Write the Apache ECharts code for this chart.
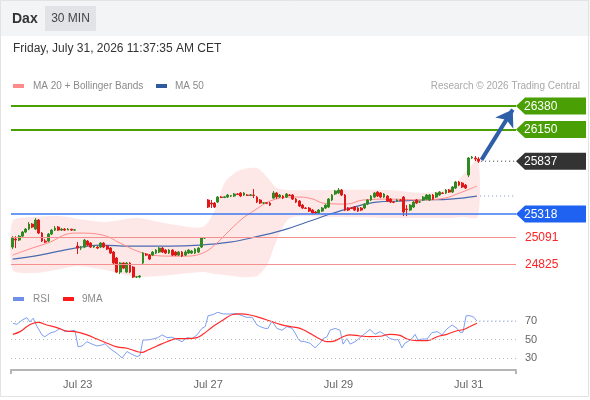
<!DOCTYPE html>
<html><head><meta charset="utf-8">
<script src="https://cdn.jsdelivr.net/npm/echarts@6/dist/echarts.min.js"></script>
<style>html,body{margin:0;padding:0;background:#fff}#c{width:590px;height:400px}</style>
</head><body><div id="c"></div>
<script>
// ---------- data ----------
const days = ['Jul 22','Jul 23','Jul 24','Jul 27','Jul 28','Jul 29','Jul 30','Jul 31'];
const barsPerDay = [20,20,20,20,20,20,20,4];
const futureSlots = 11;
const tickDays = ['Jul 23','Jul 27','Jul 29','Jul 31'];

const openP = [
24992,25071,25061,25100,25140,25169,25218,25169,25258,25130,
25051,25051,25120,25159,25189,25159,25169,25159,25169,25159,
25002,24982,24992,25051,25031,24992,24992,24992,25031,25002,
24982,24943,24884,24746,24835,24746,24835,24795,24697,24697,
24835,24923,24913,24913,24933,24943,24982,24962,24933,24962,
24943,24913,24943,24913,24933,24933,24933,24943,24992,25081,
25455,25425,25425,25435,25484,25480,25484,25494,25494,25514,
25524,25504,25504,25500,25504,25484,25455,25425,25428,25425,
25474,25524,25484,25494,25484,25504,25504,25464,25445,25405,
25376,25376,25356,25337,25327,25346,25376,25386,25455,25514,
25524,25553,25504,25376,25376,25386,25376,25376,25376,25415,
25455,25484,25533,25524,25484,25494,25464,25435,25445,25455,
25484,25366,25356,25386,25455,25435,25455,25464,25455,25504,
25484,25504,25524,25524,25553,25533,25573,25632,25622,25602,
25701,25868,25868,25858];
const closeP = [
25081,25061,25100,25140,25169,25218,25189,25258,25130,25051,
25041,25120,25159,25179,25159,25169,25159,25169,25159,25162,
24982,24985,25061,25012,24992,25002,24982,25031,24992,24972,
24933,24835,24746,24835,24785,24835,24746,24697,24700,24707,
24933,24913,24874,24943,24962,24982,24943,24933,24962,24913,
24913,24943,24903,24943,24962,24953,24972,24982,25081,25084,
25386,25415,25386,25484,25480,25486,25504,25498,25514,25510,
25494,25524,25500,25506,25500,25435,25425,25428,25422,25405,
25524,25484,25504,25474,25514,25500,25464,25435,25396,25376,
25372,25346,25327,25327,25356,25376,25405,25464,25504,25543,
25553,25504,25356,25356,25372,25356,25346,25356,25415,25455,
25494,25524,25494,25484,25514,25445,25435,25432,25455,25452,
25337,25362,25405,25435,25425,25438,25484,25504,25504,25464,
25524,25533,25520,25553,25533,25583,25632,25602,25583,25573,
25868,25878,25858,25837];
const highP = [
25100,25100,25110,25150,25179,25238,25228,25277,25268,25140,
25071,25130,25169,25199,25199,25179,25179,25179,25169,25169,
25041,25002,25071,25061,25041,25012,25002,25041,25041,25012,
24992,24953,24894,24844,24844,24844,24844,24805,24707,24716,
24943,24933,24923,24953,24972,24992,24992,24972,24972,24972,
24953,24953,24953,24962,24972,24962,24982,24992,25090,25090,
25464,25455,25435,25494,25494,25494,25514,25504,25524,25524,
25533,25533,25514,25514,25563,25494,25464,25435,25435,25435,
25543,25533,25514,25504,25524,25514,25514,25474,25455,25415,
25386,25386,25366,25346,25366,25386,25415,25474,25514,25553,
25573,25563,25514,25386,25386,25396,25386,25386,25425,25464,
25504,25533,25543,25533,25524,25504,25474,25445,25464,25464,
25494,25405,25415,25445,25464,25445,25494,25514,25514,25514,
25533,25543,25533,25563,25563,25592,25642,25642,25632,25612,
25878,25888,25888,25878];
const lowP = [
24972,24982,25051,25090,25130,25159,25179,25159,25120,25041,
25031,25041,25110,25150,25150,25150,25150,25159,25150,25150,
24923,24962,24982,25002,24982,24982,24972,24982,24982,24962,
24923,24825,24736,24726,24775,24736,24736,24687,24687,24687,
24825,24903,24864,24903,24923,24933,24933,24923,24923,24903,
24903,24903,24894,24903,24923,24923,24923,24933,24982,25071,
25376,25376,25376,25425,25474,25474,25474,25484,25484,25504,
25484,25494,25494,25494,25474,25425,25415,25415,25415,25396,
25464,25464,25474,25464,25474,25494,25455,25425,25386,25366,
25366,25337,25317,25317,25317,25337,25366,25376,25445,25504,
25514,25494,25346,25346,25366,25346,25337,25346,25366,25405,
25445,25474,25484,25474,25474,25435,25425,25425,25435,25445,
25297,25297,25346,25376,25415,25425,25445,25455,25445,25455,
25474,25494,25514,25514,25524,25524,25563,25592,25573,25563,
25681,25858,25838,25819];

// indicator readings: [bar position, value]
const ma20 = [[0,24913],[6,24982],[11.5,25041],[16.7,25120],[20,25130],[27.7,25110],[33,25031],[38.2,24953],[43,24913],[48.3,24903],[53.5,24903],[58.4,24933],[62,25012],[66.7,25159],[70.7,25277],[74.4,25356],[79,25445],[85,25484],[88.2,25484],[92.2,25464],[95.3,25425],[102.6,25415],[107.5,25455],[115.8,25464],[125.9,25455],[132.7,25474],[136.4,25514],[139.5,25553],[142.5,25592]];
const ma50 = [[0,24874],[8.4,24913],[19.1,24982],[26.8,25012],[36,25002],[48.3,25002],[57.5,25012],[66.7,25041],[74.4,25090],[83,25159],[91.3,25248],[97.4,25317],[103.6,25376],[111.8,25435],[118.9,25445],[125.9,25455],[134.3,25464],[142.5,25494]];
const bandPos   = [0,6.25,14.5,20.1,28.4,38.2,48.3,58.4,62.1,65.2,69.8,75.0,78.1,81.1,85.1,95.3,115.8,125.9,134.3,138.2,142.8];
const bandUpper = [25248,25287,25297,25268,25238,25277,25218,25189,25356,25632,25750,25770,25681,25573,25553,25553,25553,25524,25573,25701,25848];
const bandLower = [24766,24736,24775,24805,24766,24697,24716,24746,24726,24716,24697,24707,24815,25061,25277,25287,25277,25277,25277,25287,25287];

const rsi = [[0.1,67.5],[1.3,66.4],[2.9,71],[4.4,73.6],[5.3,69],[6.3,73],[7.5,64],[9.0,55],[9.9,53],[11.5,57],[13.0,58.5],[14.5,62],[16.1,58.5],[17.6,59],[19.1,60],[20.1,42],[21.3,43],[22.8,47.6],[24.4,45],[25.9,43],[27.4,44],[28.4,45.5],[29.3,42],[30.5,38.6],[32.0,35],[33.6,30],[35.1,37],[36.6,34],[38.2,31.5],[39.1,33],[40.0,49.5],[41.5,49.5],[43.1,50.5],[44.6,52],[45.9,55],[47.4,52],[48.9,52.5],[50.5,50],[52.0,47.6],[53.5,52],[55.1,51],[56.6,55],[58.1,62],[59.1,64],[60.0,75.7],[61.5,77],[63.0,79.4],[64.6,77.6],[66.7,77.6],[68.9,78],[70.4,75.7],[71.9,74],[73.5,74],[75.0,65.7],[75.9,64],[77.5,62],[78.4,62],[79.6,70],[81.1,62],[82.7,60],[84.2,64],[85.8,62],[86.7,57],[87.6,51],[88.2,48.4],[89.7,47.6],[91.3,46],[92.8,41],[94.3,46],[95.3,51],[96.5,53],[97.4,60],[99.0,62],[100.5,60],[101.4,45],[102.6,51],[103.6,45],[105.1,47.6],[106.6,52],[108.2,56.6],[109.7,61],[111.2,55.6],[112.8,58.5],[114.3,55],[115.8,51],[117.4,49.5],[118.3,50],[119.5,41],[120.4,46],[121.4,48],[122.6,51],[123.5,55.6],[124.4,49.5],[125.7,50.5],[127.2,50.5],[128.7,57.4],[130.3,58.5],[131.8,55],[133.3,61.4],[134.9,65.7],[136.4,62],[137.3,57.8],[138.2,57.8],[139.2,75.7],[140.4,75.7],[141.6,74],[142.5,70]];
const rsiMa = [[0.1,55.6],[2.3,58.5],[4.4,64],[6.3,67.5],[7.8,68.6],[10.5,65.7],[13.6,62.8],[16.7,59],[19.1,58.5],[22.8,55],[25.9,50.5],[29.0,46],[32.0,42],[35.1,40.5],[38.2,37],[39.7,36],[41.5,38.6],[44.3,43],[47.4,47.6],[50.5,51],[53.5,51],[56.6,52],[58.4,55.6],[61.5,64],[64.6,71],[67.6,77],[69.8,77.6],[72.9,76.5],[75.9,73.6],[79.0,70],[82.1,66.4],[85.1,64],[88.2,62],[91.3,56.6],[94.3,50.5],[96.5,47.6],[98.3,48],[101.4,53],[103.6,55],[106.6,53.8],[109.7,53],[112.8,53.5],[115.8,55.6],[118.9,54.5],[121.1,50.5],[124.1,48.7],[127.2,48.7],[130.3,53],[133.3,55.6],[136.4,59.5],[138.2,60.5],[140.4,64],[142.5,67.5]];
const rsiLevels = [70, 50, 30];

const resistances = [26380, 26150];
const pivot = 25318;
const supports = [25091, 24825];
const lastPrice = 25837;
const lastMa50 = 25494;
const lastRsi = 70;
const arrowFrom = [143.9, 25850];
const arrowTo = [153.5, 26345];

// ---------- build ----------
const categories = [];
const firstBar = {};
days.forEach((d, k) => {
  firstBar[d] = categories.length;
  for (let j = 0; j < barsPerDay[k]; j++) categories.push(d + ' #' + j);
});
for (let j = 0; j < futureSlots; j++) categories.push('Jul 31 #' + (barsPerDay[barsPerDay.length-1] + j));
const N = categories.length;
const tickIdx = new Set(tickDays.map(d => firstBar[d]));
const ohlc = openP.map((o, i) => [o, closeP[i], lowP[i], highP[i]]);
const lastIdx = openP.length - 1;

const FONT = '"Liberation Sans", Arial, sans-serif';
const GREEN = '#4a9f05', DARK = '#333333', RED = '#ff2222';

const chart = echarts.init(document.getElementById('c'), null, {renderer: 'canvas'});
const hidden = {show: false};
const option = {
  animation: false,
  textStyle: {fontFamily: FONT},
  grid: [
    {left: 11, right: 74, top: 80, height: 200},
    {left: 11, right: 74, top: 311.75, height: 58.25}
  ],
  xAxis: [
    {type: 'category', gridIndex: 0, data: categories, boundaryGap: true, show: false},
    {type: 'value', gridIndex: 0, min: -0.5, max: N - 0.5, show: false},
    {type: 'category', gridIndex: 1, data: categories, boundaryGap: true,
     axisLine: {show: true, lineStyle: {color: '#b5b5b5', width: 2}},
     axisTick: {show: false}, splitLine: {show: false},
     axisLabel: {interval: (i) => tickIdx.has(i), formatter: v => v.split(' #')[0],
                 color: '#666', fontSize: 11, margin: 9, fontFamily: FONT}},
    {type: 'value', gridIndex: 1, min: -0.5, max: N - 0.5, show: false}
  ],
  yAxis: [
    {type: 'value', gridIndex: 0, min: 24668, max: 26636, show: false, splitLine: hidden},
    {type: 'value', gridIndex: 1, min: 17, max: 80, show: false, splitLine: hidden}
  ],
  series: [
    {type: 'custom', name: 'Bollinger Bands', xAxisIndex: 1, yAxisIndex: 0, z: 1, silent: true,
     data: [[bandPos[0], bandLower[0]]],
     renderItem: function (params, api) {
       const up = bandPos.map((p, i) => api.coord([p, bandUpper[i]]));
       const lo = bandPos.map((p, i) => api.coord([p, bandLower[i]])).reverse();
       return {type: 'group', children: [
         {type: 'polygon', shape: {points: up.concat(lo), smooth: 0.25},
          style: {fill: 'rgba(250,110,110,0.17)', stroke: null}}
       ]};
     }},
    {type: 'line', name: 'MA 50', xAxisIndex: 1, yAxisIndex: 0, data: ma50, smooth: 0.4,
     symbol: 'none', lineStyle: {color: '#4a6bb0', width: 1.2}, z: 2, silent: true},
    {type: 'line', name: 'MA 20', xAxisIndex: 1, yAxisIndex: 0, data: ma20, smooth: 0.4,
     symbol: 'none', lineStyle: {color: '#ff8a8a', width: 1}, z: 2, silent: true},
    {type: 'candlestick', name: 'Dax', xAxisIndex: 0, yAxisIndex: 0, data: ohlc, barWidth: '70%', z: 3,
     itemStyle: {color: '#2f8a22', color0: '#e01818', borderColor: '#2f8a22', borderColor0: '#e01818', borderWidth: 1},
     markLine: {silent: true, symbol: 'none', label: {show: false},
       data: [
         {yAxis: resistances[0], lineStyle: {color: GREEN, width: 2, type: 'solid'}},
         {yAxis: resistances[1], lineStyle: {color: GREEN, width: 2, type: 'solid'}},
         {yAxis: pivot, lineStyle: {color: '#3b78f0', width: 1.5, type: 'solid'}},
         {yAxis: supports[0], lineStyle: {color: '#f59090', width: 1, type: 'solid'}},
         {yAxis: supports[1], lineStyle: {color: '#f59090', width: 1, type: 'solid'}}
       ]}},
    {type: 'line', name: 'last', xAxisIndex: 1, yAxisIndex: 0,
     data: [[lastIdx + 0.8, lastPrice], [N - 0.5, lastPrice]], symbol: 'none',
     lineStyle: {color: '#333', width: 1, type: [1, 3]}, z: 4, silent: true,
     markLine: {silent: true, symbol: ['none', 'arrow'], symbolSize: 16, label: {show: false},
       lineStyle: {color: '#2d5ea8', width: 4, type: 'solid'},
       data: [[{coord: arrowFrom}, {coord: arrowTo}]]}},
    {type: 'line', name: 'ma50mark', xAxisIndex: 1, yAxisIndex: 0,
     data: [[lastIdx + 0.5, lastMa50], [N - 0.5, lastMa50]], symbol: 'none',
     lineStyle: {color: '#8392b8', width: 1, type: [1, 3]}, z: 4, silent: true},
    {type: 'line', name: 'RSI', xAxisIndex: 3, yAxisIndex: 1, data: rsi, symbol: 'none',
     lineStyle: {color: '#7f9ef0', width: 1}, z: 3, silent: true,
     markLine: {silent: true, symbol: 'none',
       lineStyle: {color: '#bdbdbd', width: 1, type: [1, 3]},
       label: {show: true, position: 'end', formatter: '{c}', color: '#666', fontSize: 11, distance: 9, fontFamily: FONT},
       data: rsiLevels.map(v => ({yAxis: v}))}},
    {type: 'line', name: '9MA', xAxisIndex: 3, yAxisIndex: 1, data: rsiMa, symbol: 'none', smooth: 0.4,
     lineStyle: {color: '#ff2a2a', width: 1.2}, z: 4, silent: true},
    {type: 'line', name: 'rsimark', xAxisIndex: 3, yAxisIndex: 1,
     data: [[lastIdx + 0.3, lastRsi], [N - 0.5, lastRsi]], symbol: 'none',
     lineStyle: {color: '#7f9ef0', width: 1, type: [1, 3]}, z: 4, silent: true}
  ]
};
chart.setOption(option);

function txt(x, y, s, font, fill, align) {
  return {type: 'text', x: x, y: y, z: 20, silent: true,
    style: {text: s, font: font, fill: fill, align: align || 'left', textAlign: align || 'left',
            verticalAlign: 'middle', textVerticalAlign: 'middle'}};
}
const g = [];
g.push({type: 'rect', shape: {x: 0, y: 0, width: 590, height: 36}, style: {fill: '#f3f4f6'}, z: 0, silent: true});
g.push({type: 'rect', shape: {x: 45, y: 6, width: 51, height: 25}, style: {fill: '#e1e3e7'}, z: 1, silent: true});
g.push(txt(12, 19, 'Dax', 'bold 14px ' + FONT, '#333'));
g.push(txt(70.5, 19, '30 MIN', '12px ' + FONT, '#444', 'center'));
g.push(txt(13, 48.5, 'Friday, July 31, 2026 11:37:35 AM CET', '12px ' + FONT, '#333'));
g.push({type: 'rect', shape: {x: 13, y: 84, width: 11, height: 4}, style: {fill: '#ff8a8a'}, z: 20, silent: true});
g.push(txt(33, 86, 'MA 20 + Bollinger Bands', '10px ' + FONT, '#8a8a8a'));
g.push({type: 'rect', shape: {x: 156, y: 84, width: 11, height: 4}, style: {fill: '#2f5a9f'}, z: 20, silent: true});
g.push(txt(175, 86, 'MA 50', '10px ' + FONT, '#8a8a8a'));
g.push(txt(580, 86, 'Research \u00a9 2026 Trading Central', '10px ' + FONT, '#a8a8a8', 'right'));
g.push({type: 'rect', shape: {x: 13, y: 297, width: 11, height: 4}, style: {fill: '#6f8fe8'}, z: 20, silent: true});
g.push(txt(33, 299, 'RSI', '10px ' + FONT, '#8a8a8a'));
g.push({type: 'rect', shape: {x: 63, y: 297, width: 11, height: 4}, style: {fill: '#ff1a1a'}, z: 20, silent: true});
g.push(txt(82, 299, '9MA', '10px ' + FONT, '#8a8a8a'));

const xEnd = chart.convertToPixel({xAxisIndex: 1}, N - 0.5);
const xStart = chart.convertToPixel({xAxisIndex: 1}, -0.5);
function box(value, color) {
  const y = chart.convertToPixel({yAxisIndex: 0}, value);
  g.push({type: 'polygon', z: 20, silent: true,
    shape: {points: [[xEnd, y], [xEnd + 9, y - 8.5], [586, y - 8.5], [586, y + 8.5], [xEnd + 9, y + 8.5]]},
    style: {fill: color}});
  g.push(txt(xEnd + 8, y + 0.5, String(value), '12px ' + FONT, '#fff'));
}
box(resistances[0], GREEN);
box(resistances[1], GREEN);
box(lastPrice, DARK);
box(pivot, '#1f62f2');
supports.forEach(v => {
  const y = chart.convertToPixel({yAxisIndex: 0}, v);
  g.push(txt(xEnd + 9, y + 0.5, String(v), '12px ' + FONT, RED));
});
// axis end ticks
const yAxisLine = chart.convertToPixel({yAxisIndex: 1}, 17);
[xStart, xEnd].forEach(x => g.push({type: 'line', z: 20, silent: true,
  shape: {x1: x, y1: yAxisLine, x2: x, y2: yAxisLine + 4}, style: {stroke: '#b5b5b5', lineWidth: 2}}));
g.push({type: 'rect', shape: {x: 0.5, y: 0.5, width: 588, height: 396}, style: {fill: 'none', stroke: '#e3e3e3', lineWidth: 1}, z: 30, silent: true});
chart.setOption({graphic: g});
</script></body></html>
